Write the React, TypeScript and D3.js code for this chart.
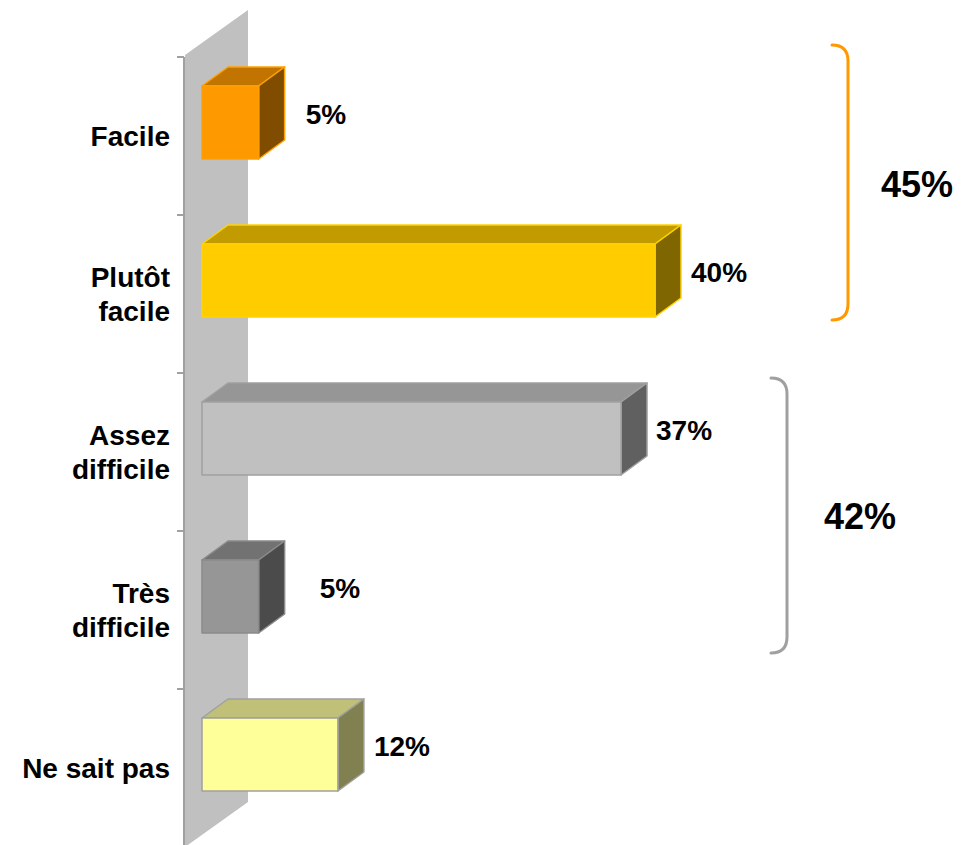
import React from "react";
import * as d3 from "d3";

const categories = ["Facile", "Plutôt\nfacile", "Assez\ndifficile", "Très\ndifficile", "Ne sait pas"];
const values = [5, 40, 37, 5, 12];
const valueLabels = ["5%", "40%", "37%", "5%", "12%"];
const frontColors = ["#FF9900", "#FFCC00", "#C0C0C0", "#969696", "#FFFF99"];
const topColors = ["#C27400", "#C29B00", "#969696", "#727272", "#C0C078"];
const sideColors = ["#7F4C00", "#7F6600", "#606060", "#4B4B4B", "#808050"];
const strokeColors = ["#FFA000", "#FFD200", "#A0A0A0", "#8A8A8A", "#A0A0A0"];
const labelNudge = [11, 0, -1, 25, 0];
const groupLabels = ["45%", "42%"];
const groupRanges = [[0, 1], [2, 3]];
const groupColors = ["#FF9900", "#A0A0A0"];

const W = 961;
const H = 845;
const FONT = "'Liberation Sans', Arial, Helvetica, sans-serif";

export default function App() {
  const y = d3.scaleBand<string>().domain(categories).range([57, 847]).padding(0);
  const x = d3.scaleLinear().domain([0, 40]).range([202, 655]);
  const dx = 26;
  const dy = -19;
  const faceTop = 29;
  const faceH = 73;
  const step = y.step();

  const wall = [
    [185, 55],
    [248, 10],
    [248, 802],
    [185, 847],
  ];

  const braceX = [848, 787];
  const braceTopAdj = [-12, 5];
  const braceBotAdj = [-53, -36];
  const braceLabelX = [881, 824];
  const braceLabelY = [197, 529];

  const bracePath = (xv: number, y0: number, y1: number) => {
    const r = 16;
    const p = d3.path();
    p.moveTo(xv - r, y0);
    p.quadraticCurveTo(xv, y0, xv, y0 + r);
    p.lineTo(xv, y1 - r);
    p.quadraticCurveTo(xv, y1, xv - r, y1);
    return p.toString();
  };

  return (
    <svg
      width={W}
      height={H}
      style={{ position: "absolute", left: 0, top: 0, background: "#fff" }}
      fontFamily={FONT}
    >
      <polygon points={wall.map((p) => p.join(",")).join(" ")} fill="#C0C0C0" />
      <line x1={184} x2={184} y1={57} y2={H} stroke="#A0A0A0" strokeWidth={2} />
      {categories.map((c, i) => (
        <line key={"t" + i} x1={177} x2={184} y1={y(c)!} y2={y(c)!} stroke="#A0A0A0" strokeWidth={2} />
      ))}

      {categories.map((c, i) => {
        const x0 = x(0);
        const x1 = x(values[i]);
        const t = y(c)! + faceTop;
        const b = t + faceH;
        const top = `${x0},${t} ${x0 + dx},${t + dy} ${x1 + dx},${t + dy} ${x1},${t}`;
        const side = `${x1},${t} ${x1 + dx},${t + dy} ${x1 + dx},${b + dy} ${x1},${b}`;
        return (
          <g key={"b" + i} strokeWidth={1.5} stroke={strokeColors[i]} strokeLinejoin="round">
            <polygon points={top} fill={topColors[i]} />
            <polygon points={side} fill={sideColors[i]} />
            <rect x={x0} y={t} width={x1 - x0} height={faceH} fill={frontColors[i]} />
          </g>
        );
      })}

      {categories.map((c, i) => {
        const t = y(c)! + faceTop;
        return (
          <text
            key={"v" + i}
            x={x(values[i]) + dx + 10 + labelNudge[i]}
            y={t + faceH / 2 + 1}
            fontSize={28}
            fontWeight="bold"
            fill="#000"
          >
            {valueLabels[i]}
          </text>
        );
      })}

      {categories.map((c, i) => {
        const lines = c.split("\n");
        const cy = y(c)! + step / 2;
        const lh = 34;
        const start = cy - ((lines.length - 1) * lh) / 2;
        return (
          <text key={"c" + i} x={170} textAnchor="end" fontSize={28} fontWeight="bold" fill="#000">
            {lines.map((l, j) => (
              <tspan key={j} x={170} y={start + j * lh + 10}>
                {l}
              </tspan>
            ))}
          </text>
        );
      })}

      {groupRanges.map((g, k) => {
        const y0 = y(categories[g[0]])! + braceTopAdj[k];
        const y1 = y(categories[g[1]])! + step + braceBotAdj[k];
        return (
          <g key={"g" + k}>
            <path d={bracePath(braceX[k], y0, y1)} fill="none" stroke={groupColors[k]} strokeWidth={3} strokeLinecap="round" />
            <text x={braceLabelX[k]} y={braceLabelY[k]} fontSize={36} fontWeight="bold" fill="#000">
              {groupLabels[k]}
            </text>
          </g>
        );
      })}
    </svg>
  );
}
